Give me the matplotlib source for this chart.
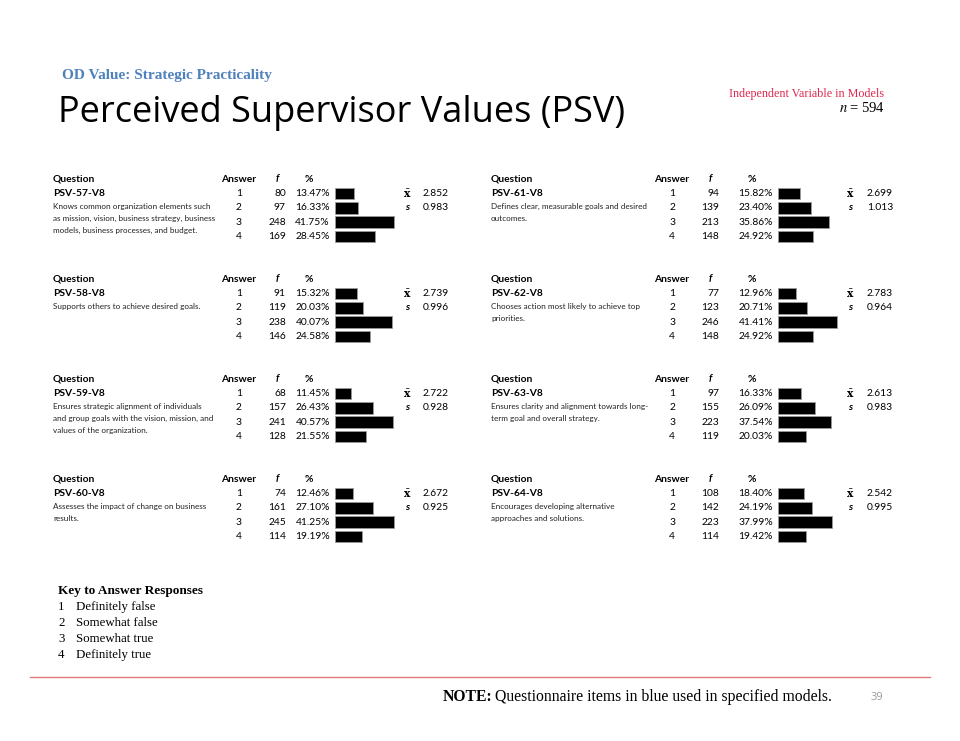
import matplotlib
matplotlib.use("Agg")
import matplotlib.pyplot as plt

plt.rcParams["mathtext.fontset"] = "stix"

# ---------------- data ----------------
question_ids = ["PSV-57-V8", "PSV-61-V8", "PSV-58-V8", "PSV-62-V8",
                "PSV-59-V8", "PSV-63-V8", "PSV-60-V8", "PSV-64-V8"]
descriptions = [
    "Knows common organization elements such\nas mission, vision, business strategy, business\nmodels, business processes, and budget.",
    "Defines clear, measurable goals and desired\noutcomes.",
    "Supports others to achieve desired goals.",
    "Chooses action most likely to achieve top\npriorities.",
    "Ensures strategic alignment of individuals\nand group goals with the vision, mission, and\nvalues of the organization.",
    "Ensures clarity and alignment towards long-\nterm goal and overall strategy.",
    "Assesses the impact of change on business\nresults.",
    "Encourages developing alternative\napproaches and solutions.",
]
answers = [1, 2, 3, 4]
freqs = [
    [80, 97, 248, 169],
    [94, 139, 213, 148],
    [91, 119, 238, 146],
    [77, 123, 246, 148],
    [68, 157, 241, 128],
    [97, 155, 223, 119],
    [74, 161, 245, 114],
    [108, 142, 223, 114],
]
percents = [
    [13.47, 16.33, 41.75, 28.45],
    [15.82, 23.40, 35.86, 24.92],
    [15.32, 20.03, 40.07, 24.58],
    [12.96, 20.71, 41.41, 24.92],
    [11.45, 26.43, 40.57, 21.55],
    [16.33, 26.09, 37.54, 20.03],
    [12.46, 27.10, 41.25, 19.19],
    [18.40, 24.19, 37.99, 19.42],
]
means = [2.852, 2.699, 2.739, 2.783, 2.722, 2.613, 2.672, 2.542]
sds = [0.983, 1.013, 0.996, 0.964, 0.928, 0.983, 0.925, 0.995]
key_labels = ["Definitely false", "Somewhat false", "Somewhat true", "Definitely true"]
n_total = 594

# ---------------- layout ----------------
W, H = 960, 741
fig = plt.figure(figsize=(W / 100, H / 100), dpi=100)
ax = fig.add_axes([0, 0, 1, 1])
ax.set_xlim(0, W)
ax.set_ylim(H, 0)
ax.axis("off")

SANS = "Lato"
SERIF = "Liberation Serif"
TS = 7.4       # table font size
DS = 5.9       # description font size

cols = {
    0: dict(q=53, ans=239, f=286, p=330, bar=335, xb=407, val=423),
    1: dict(q=491, ans=672, f=719, p=773, bar=778, xb=850, val=867),
}
block_y0 = [179, 279, 379, 479]
row_dy = 14.4
px_per_pct = 1.42
bar_h = 11.5

for i, qid in enumerate(question_ids):
    c = cols[i % 2]
    y0 = block_y0[i // 2]
    ax.text(c["q"], y0, "Question", fontsize=TS, fontweight="bold", family=SANS, va="center", ha="left")
    ax.text(c["ans"], y0, "Answer", fontsize=TS, fontweight="bold", family=SANS, va="center", ha="center")
    ax.text(c["f"] - 9, y0, "f", fontsize=TS, fontweight="bold", style="italic", family=SANS, va="center", ha="center")
    ax.text(c["p"] - 21, y0, "%", fontsize=TS, fontweight="bold", family=SANS, va="center", ha="center")
    ax.text(c["q"], y0 + row_dy, qid, fontsize=TS, fontweight="bold", family=SANS, va="center", ha="left")
    ax.text(c["q"], y0 + 2 * row_dy - 4.5, descriptions[i], fontsize=DS, family=SANS, va="top", ha="left",
            linespacing=1.8, color="#222222")
    ys = [y0 + row_dy * (k + 1) for k in range(len(answers))]
    for k, a in enumerate(answers):
        ax.text(c["ans"], ys[k], str(a), fontsize=TS, family=SANS, va="center", ha="center")
        ax.text(c["f"], ys[k], str(freqs[i][k]), fontsize=TS, family=SANS, va="center", ha="right")
        ax.text(c["p"], ys[k], f"{percents[i][k]:.2f}%", fontsize=TS, family=SANS, va="center", ha="right")
    ax.barh(ys, [p * px_per_pct for p in percents[i]], left=c["bar"], height=bar_h,
            color="black", edgecolor="#9a9a9a", linewidth=0.6)
    ax.text(c["xb"], ys[0], "x̄", fontsize=TS + 0.3, fontweight="bold", family="DejaVu Serif", va="center", ha="center")
    ax.text(c["val"], ys[0], f"{means[i]:.3f}", fontsize=TS, family=SANS, va="center", ha="left")
    ax.text(c["xb"], ys[1], "s", fontsize=TS, fontweight="bold", style="italic", family=SANS, va="center", ha="center")
    ax.text(c["val"], ys[1], f"{sds[i]:.3f}", fontsize=TS, family=SANS, va="center", ha="left")

# ---------------- header ----------------
ax.text(62, 75, "OD Value: Strategic Practicality", fontsize=11, fontweight="bold", family=SERIF,
        color="#4f81bd", va="center", ha="left")
ax.text(58, 113, "Perceived Supervisor Values (PSV)", fontsize=26, family="Open Sans",
        color="black", va="center", ha="left")
ax.text(884, 94, "Independent Variable in Models", fontsize=8.7, family=SERIF, color="#e0284f",
        va="center", ha="right")
ax.text(884, 108, f"$n$ = {n_total}", fontsize=10.5, family=SERIF, color="black", va="center", ha="right")

# ---------------- key ----------------
ax.text(58, 591, "Key to Answer Responses", fontsize=9.5, fontweight="bold", family=SERIF, va="center", ha="left")
for k, (a, lab) in enumerate(zip(answers, key_labels)):
    yk = 607 + 16 * k
    ax.text(58, yk, str(a), fontsize=9.3, family=SERIF, va="center", ha="left")
    ax.text(76, yk, lab, fontsize=9.3, family=SERIF, va="center", ha="left")

# ---------------- footer ----------------
ax.plot([30, 930], [677, 677], color="#e07a7a", linewidth=1.0)
ax.text(443, 697, "NOTE:", fontsize=11.3, fontweight="bold", family=SERIF, va="center", ha="left")
ax.text(495, 697, "Questionnaire items in blue used in specified models.", fontsize=11.3, family=SERIF,
        va="center", ha="left")
ax.text(877, 697, "39", fontsize=8, family="Open Sans", color="#9a9a9a", va="center", ha="center")

fig.savefig("out.png", dpi=100)
